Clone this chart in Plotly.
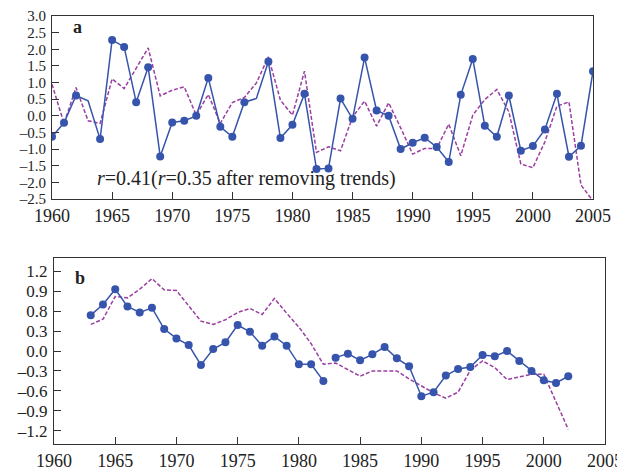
import plotly.graph_objects as go

years_a = list(range(1960, 2006))
blue_a = [-0.63, -0.21, 0.61, 0.45, -0.70, 2.28, 2.07, 0.41, 1.46, -1.22,
          -0.20, -0.15, 0.00, 1.14, -0.33, -0.63, 0.41, 0.52, 1.63, -0.67,
          -0.27, 0.66, -1.60, -1.58, 0.52, -0.09, 1.75, 0.16, 0.00, -1.00,
          -0.81, -0.66, -0.94, -1.39, 0.63, 1.71, -0.30, -0.63, 0.61, -1.05,
          -0.91, -0.41, 0.66, -1.23, -0.90, 1.34]
purple_a = [0.95, -0.23, 0.85, -0.15, -0.23, 1.11, 0.82, 1.42, 2.04, 0.60,
            0.77, 0.87, 0.02, 0.64, -0.23, 0.40, 0.55, 0.99, 1.77, 0.47,
            0.02, 1.34, -1.10, -0.93, -1.05, -0.03, 0.44, -0.31, 0.39, -0.36,
            -1.15, -0.98, -0.98, -0.25, -1.20, 0.02, 0.49, 0.79, 0.12, -1.45,
            -1.56, -0.78, 0.29, 0.42, -2.08, -2.56]
no_marker_years_a = [1963, 1977]

years_b = list(range(1963, 2003))
blue_b = [0.54, 0.70, 0.93, 0.67, 0.58, 0.65, 0.33, 0.19, 0.09, -0.21,
          0.03, 0.13, 0.39, 0.29, 0.08, 0.22, 0.08, -0.20, -0.20, -0.45,
          -0.10, -0.04, -0.14, -0.05, 0.06, -0.11, -0.23, -0.68, -0.62, -0.37,
          -0.27, -0.24, -0.06, -0.08, 0.00, -0.15, -0.30, -0.44, -0.48, -0.38]
gap_after_b = 1982
purple_b = [0.40, 0.48, 0.82, 0.80, 0.93, 1.09, 0.92, 0.91, 0.68, 0.45,
            0.40, 0.47, 0.58, 0.64, 0.55, 0.79, 0.57, 0.36, 0.11, -0.20,
            -0.18, -0.28, -0.38, -0.30, -0.30, -0.30, -0.42, -0.53, -0.63, -0.71,
            -0.62, -0.29, -0.15, -0.25, -0.43, -0.39, -0.35, -0.35, -0.77, -1.18]

x_ticks = list(range(1960, 2006, 5))
ya_ticks = [3.0, 2.5, 2.0, 1.5, 1.0, 0.5, 0.0, -0.5, -1.0, -1.5, -2.0, -2.5]
yb_ticks = [1.2, 0.9, 0.6, 0.3, 0.0, -0.3, -0.6, -0.9, -1.2]
yb_ticktext = ["1.2", "0.9", "0.8", "0.3", "0.0", "\u20130.3", "\u20130.6", "\u20130.9", "\u20131.2"]
ya_ticktext = [("\u2013" + f"{abs(v):.1f}") if v < 0 else f"{v:.1f}" for v in ya_ticks]

BLUE = "#3654ab"
PURPLE = "#9a3ea2"
FONT = "Liberation Serif"
TXT = "#222222"
DASH = "4px,2px"

fig = go.Figure()

# panel a
fig.add_trace(go.Scatter(x=years_a, y=purple_a, mode="lines",
                         line=dict(color=PURPLE, width=1.5, dash=DASH),
                         xaxis="x", yaxis="y", showlegend=False))
fig.add_trace(go.Scatter(x=years_a, y=blue_a, mode="lines",
                         line=dict(color=BLUE, width=1.5),
                         xaxis="x", yaxis="y", showlegend=False))
mk_x = [yr for yr in years_a if yr not in no_marker_years_a]
mk_y = [v for yr, v in zip(years_a, blue_a) if yr not in no_marker_years_a]
fig.add_trace(go.Scatter(x=mk_x, y=mk_y, mode="markers",
                         marker=dict(color=BLUE, size=8),
                         xaxis="x", yaxis="y", showlegend=False))

# panel b
fig.add_trace(go.Scatter(x=years_b, y=purple_b, mode="lines",
                         line=dict(color=PURPLE, width=1.5, dash=DASH),
                         xaxis="x2", yaxis="y2", showlegend=False))
bx = []
by = []
for yr, v in zip(years_b, blue_b):
    bx.append(yr)
    by.append(v)
    if yr == gap_after_b:
        bx.append(yr + 0.5)
        by.append(None)
fig.add_trace(go.Scatter(x=bx, y=by, mode="lines+markers", connectgaps=False,
                         line=dict(color=BLUE, width=1.5),
                         marker=dict(color=BLUE, size=8),
                         xaxis="x2", yaxis="y2", showlegend=False))

W, H = 617, 470
axis_common = dict(showline=True, linecolor="#333333", linewidth=1.2, mirror=True,
                   ticks="inside", ticklen=7, tickcolor="#333333", tickwidth=1.2,
                   showgrid=False, zeroline=False, automargin=False,
                   ticklabeloverflow="allow")
xfont = dict(family=FONT, size=18, color=TXT)
yfont_a = dict(family=FONT, size=15, color=TXT)
yfont_b = dict(family=FONT, size=17, color=TXT)

fig.update_layout(
    width=W, height=H,
    margin=dict(l=0, r=0, t=0, b=0, autoexpand=False),
    plot_bgcolor="white", paper_bgcolor="white",
    xaxis=dict(domain=[52 / W, 593 / W], range=[1960, 2005], tickvals=x_ticks,
               anchor="y", tickfont=xfont, **axis_common),
    yaxis=dict(domain=[1 - 199 / H, 1 - 16 / H], range=[-2.5, 3.0], tickvals=ya_ticks,
               ticktext=ya_ticktext, anchor="x", tickfont=yfont_a, ticklabelstandoff=2,
               **axis_common),
    xaxis2=dict(domain=[54 / W, 605 / W], range=[1960, 2005], tickvals=x_ticks,
                anchor="y2", tickfont=xfont, **axis_common),
    yaxis2=dict(domain=[1 - 444 / H, 1 - 258 / H], range=[-1.4, 1.4], tickvals=yb_ticks,
                ticktext=yb_ticktext, anchor="x2", tickfont=yfont_b, ticklabelstandoff=2,
                **axis_common),
    annotations=[
        dict(text="<b>a</b>", x=1962.1, y=2.66, xref="x", yref="y", showarrow=False,
             font=dict(family=FONT, size=18, color=TXT)),
        dict(text="<b>b</b>", x=1962.1, y=1.10, xref="x2", yref="y2", showarrow=False,
             font=dict(family=FONT, size=18, color=TXT)),
        dict(text="<i>r</i>=0.41(<i>r</i>=0.35 after removing trends)",
             x=1963.6, y=-1.87, xref="x", yref="y", xanchor="left", yanchor="middle",
             showarrow=False, font=dict(family=FONT, size=20, color=TXT)),
    ],
)

fig.write_html("out.html")
